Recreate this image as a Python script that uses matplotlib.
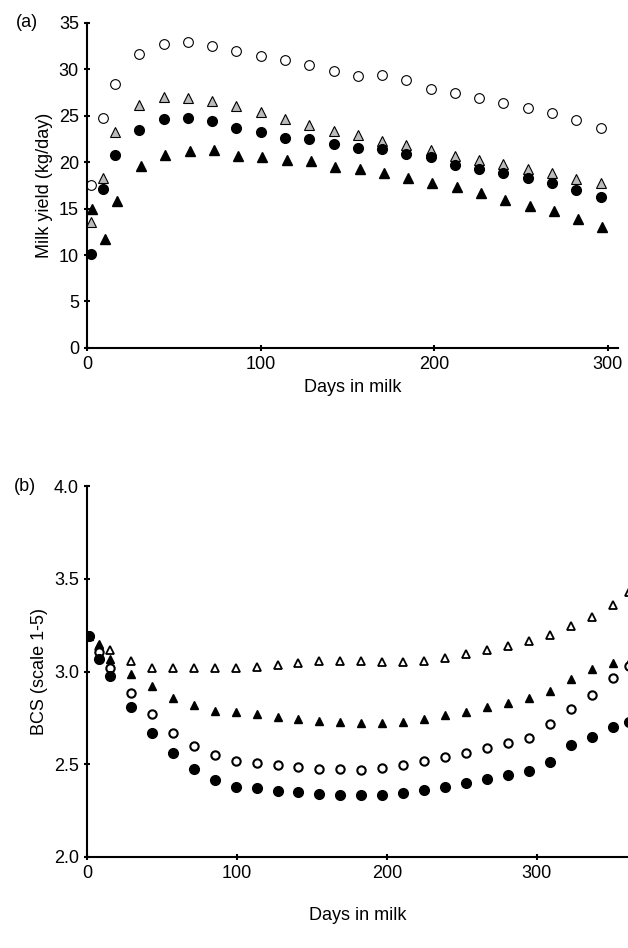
import numpy as np
import matplotlib.pyplot as plt

plt.rcParams['font.family'] = ['Liberation Sans', 'DejaVu Sans']

# panel (a): milk yield
days_a = [2, 9] + list(range(16, 297, 14))
open_circ_a = [17.5, 24.7, 28.4, 31.6, 32.7, 32.9, 32.5, 32.0, 31.4, 31.0, 30.5, 29.8,
               29.3, 29.4, 28.8, 27.9, 27.4, 26.9, 26.4, 25.8, 25.3, 24.5, 23.7]
gray_tri_a = [13.6, 18.3, 23.2, 26.2, 27.0, 26.9, 26.6, 26.0, 25.4, 24.6, 24.0, 23.4,
              22.9, 22.3, 21.8, 21.3, 20.7, 20.2, 19.8, 19.3, 18.8, 18.2, 17.7]
fill_circ_a = [10.1, 17.1, 20.8, 23.5, 24.6, 24.7, 24.4, 23.7, 23.2, 22.6, 22.5, 22.0,
               21.5, 21.4, 20.9, 20.6, 19.7, 19.3, 18.8, 18.3, 17.7, 17.0, 16.2]
fill_tri_a = [15.0, 11.7, 15.8, 19.6, 20.8, 21.2, 21.3, 20.7, 20.6, 20.2, 20.1, 19.5,
              19.3, 18.8, 18.3, 17.8, 17.3, 16.7, 15.9, 15.3, 14.7, 13.9, 13.0]
days_a_ft = [3, 10] + list(range(17, 298, 14))

# panel (b): BCS
days_b = [1, 8, 15] + list(range(29, 352, 14)) + [362]
open_tri_b = [3.19, 3.14, 3.116, 3.06, 3.02, 3.02, 3.02, 3.02, 3.02, 3.025, 3.035, 3.045,
              3.055, 3.06, 3.055, 3.05, 3.05, 3.06, 3.075, 3.095, 3.115, 3.14, 3.165,
              3.20, 3.245, 3.295, 3.36, 3.43]
fill_tri_b = [3.19, 3.15, 3.07, 2.99, 2.92, 2.86, 2.82, 2.79, 2.78, 2.77, 2.757, 2.743,
              2.733, 2.73, 2.723, 2.723, 2.73, 2.745, 2.765, 2.784, 2.81, 2.83, 2.856,
              2.896, 2.963, 3.017, 3.047, 3.05]
open_circ_b = [3.19, 3.107, 3.02, 2.885, 2.77, 2.67, 2.60, 2.55, 2.52, 2.505, 2.495, 2.485,
               2.477, 2.475, 2.472, 2.48, 2.497, 2.517, 2.54, 2.56, 2.587, 2.614, 2.64,
               2.716, 2.797, 2.876, 2.965, 3.03]
fill_circ_b = [3.19, 3.07, 2.976, 2.81, 2.67, 2.56, 2.475, 2.415, 2.38, 2.37, 2.357, 2.35,
               2.34, 2.337, 2.336, 2.336, 2.344, 2.36, 2.38, 2.40, 2.42, 2.443, 2.466,
               2.512, 2.606, 2.65, 2.70, 2.73]

fig = plt.figure(figsize=(6.28, 9.48), dpi=100)
ax1 = fig.add_axes([0.139, 0.633, 0.845, 0.343])
ax2 = fig.add_axes([0.139, 0.096, 0.861, 0.391])

ms = 7
ax1.plot(days_a, open_circ_a, 'o', mfc='white', mec='black', mew=0.8, ms=ms, clip_on=False)
ax1.plot(days_a, gray_tri_a, '^', mfc='#bbbbbb', mec='black', mew=0.8, ms=ms, clip_on=False)
ax1.plot(days_a, fill_circ_a, 'o', color='black', ms=ms, clip_on=False)
ax1.plot(days_a_ft, fill_tri_a, '^', color='black', ms=ms, clip_on=False)
ax1.set_xlim(0, 306)
ax1.set_ylim(0, 35)
ax1.set_yticks(range(0, 36, 5))
ax1.set_xticks([0, 100, 200, 300])
ax1.set_xlabel('Days in milk', fontsize=13)
ax1.set_ylabel('Milk yield (kg/day)', fontsize=13)
ax1.text(-0.135, 1.0, '(a)', transform=ax1.transAxes, fontsize=13, va='center')

ms2 = 6
ax2.plot(days_b, open_tri_b, '^', mfc='white', mec='black', mew=1.3, ms=ms2)
ax2.plot(days_b, fill_tri_b, '^', color='black', ms=ms2)
ax2.plot(days_b, open_circ_b, 'o', mfc='white', mec='black', mew=1.5, ms=ms2)
ax2.plot(days_b, fill_circ_b, 'o', color='black', ms=ms2 + 1)
ax2.set_xlim(0, 361)
ax2.set_ylim(2.0, 4.0)
ax2.set_yticks([2.0, 2.5, 3.0, 3.5, 4.0])
ax2.set_xticks([0, 100, 200, 300])
ax2.set_xlabel('Days in milk', fontsize=13, labelpad=18)
ax2.set_ylabel('BCS (scale 1-5)', fontsize=13)
ax2.text(-0.135, 1.0, '(b)', transform=ax2.transAxes, fontsize=13, va='center')

for ax in (ax1, ax2):
    for s in ('top', 'right'):
        ax.spines[s].set_visible(False)
    ax.spines['left'].set_linewidth(1.5)
    ax.spines['bottom'].set_linewidth(1.5)
    ax.tick_params(labelsize=13, width=1.5, length=5, direction='inout')

fig.savefig('out.png', dpi=100)
